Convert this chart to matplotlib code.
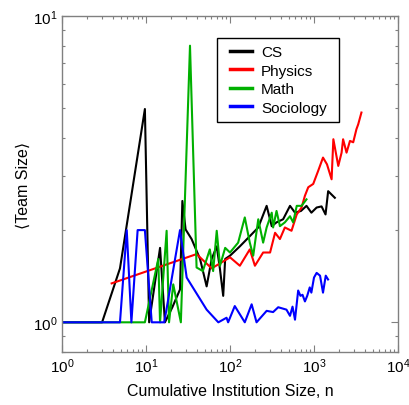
import matplotlib
matplotlib.use("Agg")
import matplotlib.pyplot as plt
from matplotlib.patches import Rectangle
from matplotlib.ticker import LogLocator, NullFormatter, LogFormatterSciNotation

plt.rcParams['font.family'] = ['Liberation Sans', 'DejaVu Sans']
plt.rcParams['mathtext.fontset'] = 'custom'
plt.rcParams['mathtext.rm'] = 'Liberation Sans'
plt.rcParams['mathtext.it'] = 'Liberation Sans:italic'

cs_n = [1, 2, 3, 4.9, 9.7, 10.9, 14.7, 16.8, 20.6, 25.4, 27.1, 29.6, 34.9, 44, 52.7,
        60.5, 69.5, 76, 83, 87.6, 100, 131, 172, 217, 273, 314, 358, 429, 518, 594,
        700, 814, 931, 1075, 1230, 1372, 1474, 1770]
cs_t = [1, 1, 1, 1.5, 4.97, 1, 1.75, 1, 1.12, 1.28, 2.49, 2.01, 1.87, 1.61, 1.31,
        1.61, 1.77, 1.49, 1.22, 1.61, 1.65, 1.77, 1.91, 2.04, 2.40, 2.06, 2.12, 2.17, 2.40, 2.28,
        2.31, 2.40, 2.28, 2.37, 2.39, 2.25, 2.68, 2.55]

ph_n = [3.9, 40, 60.5, 100, 131, 172, 198, 248, 300, 344, 393, 450, 540, 623, 711, 780,
        854, 979, 1120, 1280, 1427, 1620, 1700, 1945, 2130, 2220, 2440, 2680, 2930, 3200,
        3360, 3670]
ph_t = [1.34, 1.67, 1.50, 1.63, 1.53, 1.73, 1.53, 1.69, 1.69, 1.96, 1.87, 2.04, 1.99, 2.25,
        2.37, 2.59, 2.76, 2.83, 3.12, 3.45, 3.28, 2.93, 3.96, 3.24, 3.58, 3.96, 3.58, 3.91,
        3.87, 4.27, 4.43, 4.84]

ma_n = [1, 2, 3, 5, 9.7, 14, 14.7, 17.6, 18.8, 21.1, 26, 33.4, 40, 47.5, 57.5, 63, 69.5,
        76, 87.6, 100, 125, 150, 172, 189, 217, 248, 273, 314, 326, 358, 393, 450, 518,
        565, 623, 711, 814]
ma_t = [1, 1, 1, 1, 1, 1.61, 1, 1.99, 1, 1.33, 1, 8.0, 1.51, 1.47, 1.73, 1.47, 1.99,
        1.53, 1.75, 1.69, 1.82, 2.20, 1.82, 1.65, 2.17, 1.82, 2.04, 2.28, 2.04, 2.31, 2.06,
        2.12, 2.22, 2.12, 2.40, 2.40, 2.52]

so_n = [1, 2, 3, 4.9, 5.9, 6.7, 7.95, 9.7, 11.7, 16.5, 25.4, 30.5, 52.7, 72.6, 91, 95,
        114, 150, 181, 207, 273, 326, 375, 470, 518, 555, 594, 648, 690, 730, 780, 830,
        890, 930, 1000, 1075, 1180, 1280, 1380, 1470]
so_t = [1, 1, 1, 1, 2, 1, 2, 2, 1, 1, 2, 1.40, 1.10, 1.0, 1.035, 1.0,
        1.13, 1.0, 1.145, 1.0, 1.09, 1.08, 1.12, 1.10, 1.05, 1.125, 1.02, 1.27, 1.22, 1.23,
        1.17, 1.22, 1.30, 1.25, 1.40, 1.45, 1.42, 1.25, 1.42, 1.38]

labels = ['CS', 'Physics', 'Math', 'Sociology']
colors = ['#000000', '#ff0000', '#00b000', '#0000ff']

fig = plt.figure(figsize=(4.09, 4.06), dpi=100)
ax = fig.add_axes([62/409, 1-353/406, 336/409, 336/406])

for n, t, lab, c in [(cs_n, cs_t, labels[0], colors[0]), (ph_n, ph_t, labels[1], colors[1]),
                     (ma_n, ma_t, labels[2], colors[2]), (so_n, so_t, labels[3], colors[3])]:
    ax.plot(n, t, color=c, lw=1.5, label=lab)

ax.set_xscale('log')
ax.set_yscale('log')
ax.set_xlim(1, 1e4)
ax.set_ylim(0.8, 10)

ax.xaxis.set_major_locator(LogLocator(base=10, numticks=10))
ax.xaxis.set_minor_locator(LogLocator(base=10, subs=range(2, 10), numticks=20))
ax.yaxis.set_major_locator(LogLocator(base=10, numticks=10))
ax.yaxis.set_minor_locator(LogLocator(base=10, subs=range(2, 10), numticks=20))
ax.xaxis.set_major_formatter(LogFormatterSciNotation())
ax.yaxis.set_major_formatter(LogFormatterSciNotation())
ax.xaxis.set_minor_formatter(NullFormatter())
ax.yaxis.set_minor_formatter(NullFormatter())

for s in ax.spines.values():
    s.set_color('#808080')
    s.set_linewidth(1.0)
ax.tick_params(which='both', direction='in', top=True, right=True, color='#808080',
               labelsize=11, labelcolor='black')
ax.tick_params(which='major', length=5, width=0.8, pad=3)
ax.tick_params(which='minor', length=2.5, width=0.8)

ax.set_xlabel('Cumulative Institution Size, n', fontsize=11.5, labelpad=6)
ax.set_ylabel('\u27e8Team Size\u27e9', fontsize=11.5, labelpad=1.5)

# legend frame drawn separately to match the wider horizontal padding
ax.add_patch(Rectangle((0.461, 0.685), 0.363, 0.249, transform=ax.transAxes,
                       facecolor='white', edgecolor='black', lw=1.0, zorder=4))
leg = ax.legend(loc='upper left', bbox_to_anchor=(0.479, 0.934), fontsize=11,
                frameon=False, handlelength=1.45, handletextpad=0.6, labelspacing=0.3,
                borderpad=0.45, borderaxespad=0)
leg.set_zorder(5)
for l in leg.get_lines():
    l.set_linewidth(2.5)

fig.savefig('out.png', dpi=100)
